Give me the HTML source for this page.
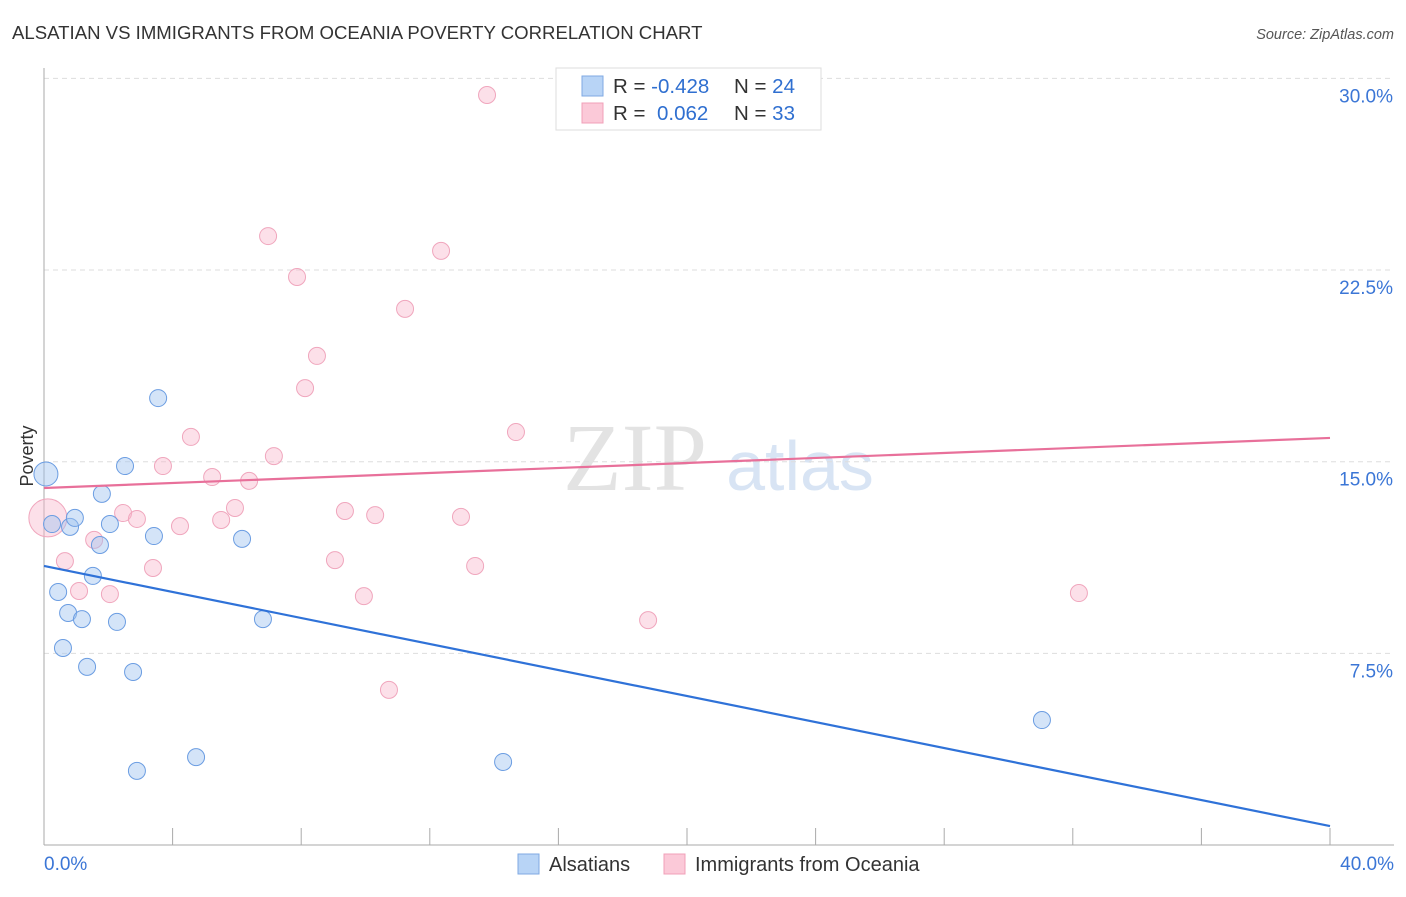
<!DOCTYPE html>
<html><head><meta charset="utf-8"><style>
body{margin:0;background:#fff;font-family:"Liberation Sans",sans-serif;}
</style></head><body>
<svg width="1406" height="892" xmlns="http://www.w3.org/2000/svg" font-family="Liberation Sans, sans-serif">
<text x="12" y="39" font-size="18.6" fill="#333">ALSATIAN VS IMMIGRANTS FROM OCEANIA POVERTY CORRELATION CHART</text>
<text x="1394" y="39" font-size="14.5" fill="#555" font-style="italic" text-anchor="end">Source: ZipAtlas.com</text>
<g>
<text x="635" y="490" font-size="96" fill="#d8d8d8" text-anchor="middle" font-family="Liberation Serif, serif" opacity="0.7">ZIP</text>
<text x="800" y="490" font-size="70" fill="#c8daf0" text-anchor="middle" opacity="0.7">atlas</text>
</g>
<g id="grid"></g>
<line x1="44" y1="68" x2="44" y2="845" stroke="#aaa"/>
<line x1="44" y1="845" x2="1394" y2="845" stroke="#aaa"/>
<g id="ticks"></g>
<text x="33" y="456" font-size="18" fill="#333" text-anchor="middle" transform="rotate(-90 33 456)">Poverty</text>
<g id="pts"></g>
<g id="lines"></g>
<g>
<rect x="556" y="68" width="265" height="62" fill="#fff" stroke="#ddd"/>
<rect x="582" y="76" width="21" height="20" fill="#b8d4f6" stroke="#7fa9e3"/>
<rect x="582" y="103" width="21" height="20" fill="#fbc9d8" stroke="#f0a0b8"/>
<text x="613" y="93" font-size="20.5" fill="#333">R = <tspan fill="#2f6fd0">-0.428</tspan></text>
<text x="734" y="93" font-size="20.5" fill="#333">N = <tspan fill="#2f6fd0">24</tspan></text>
<text x="613" y="120" font-size="20.5" fill="#333">R = <tspan fill="#2f6fd0" x="657">0.062</tspan></text>
<text x="734" y="120" font-size="20.5" fill="#333">N = <tspan fill="#2f6fd0">33</tspan></text>
</g>
<g>
<rect x="518" y="854" width="21" height="20" fill="#b8d4f6" stroke="#7fa9e3"/>
<text x="549" y="871" font-size="20" fill="#333">Alsatians</text>
<rect x="664" y="854" width="21" height="20" fill="#fbc9d8" stroke="#f0a0b8"/>
<text x="695" y="871" font-size="20" fill="#333">Immigrants from Oceania</text>
</g>
</svg>
<script>
const blueX=[0.06,0.25,0.81,0.96,1.74,1.52,0.44,0.75,1.18,2.27,0.59,1.34,2.77,1.80,2.05,2.52,3.42,3.55,6.16,6.81,2.89,4.73,14.28,31.04];
const blueY=[14.52,12.56,12.45,12.80,11.74,10.53,9.90,9.08,8.84,8.73,7.71,6.97,6.77,13.74,12.56,14.83,12.09,17.49,11.98,8.84,2.90,3.44,3.25,4.89];
const pinkX=[13.78,6.97,12.35,7.87,11.23,8.49,8.12,14.68,4.57,3.70,7.15,5.23,6.38,5.94,2.46,2.89,5.51,4.23,9.36,10.30,12.97,0.12,1.56,0.65,9.05,13.41,3.39,1.09,2.05,9.95,32.19,18.79,10.73];
const pinkY=[29.35,23.83,23.25,22.23,20.98,19.14,17.88,16.16,15.97,14.83,15.22,14.40,14.25,13.19,12.99,12.76,12.72,12.48,13.07,12.91,12.84,12.80,11.94,11.11,11.15,10.92,10.84,9.94,9.82,9.74,9.86,8.80,6.07];
const blueTrend=[10.92,0.74];
const pinkTrend=[13.97,15.93];
const yTicks=[7.5,15,22.5,30];
const yTickLabels=["7.5%","15.0%","22.5%","30.0%"];
const NS='http://www.w3.org/2000/svg';
const sx=v=>44+v/40*1286;
const sy=v=>845-v/30*766.6;
function mk(tag,attrs,parent){const e=document.createElementNS(NS,tag);for(const k in attrs)e.setAttribute(k,attrs[k]);document.getElementById(parent).appendChild(e);return e;}
yTicks.forEach((t,i)=>{
 const g=mk('line',{x1:44,x2:1394,y1:sy(t),y2:sy(t),stroke:'#ddd','stroke-dasharray':'5,4'},'grid');
 
 
 const l=mk('text',{x:1393,y:sy(t)+24,'font-size':19,fill:'#3b76d6','text-anchor':'end'},'ticks');
 l.textContent=yTickLabels[i];
 
 
});
for(let i=0;i<=10;i++){
 const t=mk('line',{x1:sx(i*4),x2:sx(i*4),y1:828,y2:845,stroke:'#aaa'},'ticks');
 
 
}
[[0,"0.0%",'start',44],[40,"40.0%",'end',1394]].forEach(a=>{
 const l=mk('text',{x:a[3],y:870,'font-size':19,fill:'#3b76d6','text-anchor':a[2]},'ticks');
 l.textContent=a[1];
 
 
});
pinkX.forEach((x,i)=>{
 const r=(i===21)?19:8.5;
 const c=mk('circle',{cx:sx(x),cy:sy(pinkY[i]),r:r,fill:'rgba(248,182,202,0.42)',stroke:'#f0a6bd','stroke-width':1},'pts');
 
 
});
blueX.forEach((x,i)=>{
 const r=(i===0)?12:8.5;
 const c=mk('circle',{cx:sx(x),cy:sy(blueY[i]),r:r,fill:'rgba(160,196,240,0.45)',stroke:'#6b9de2','stroke-width':1},'pts');
 
 
});
const bl=mk('line',{x1:sx(0),y1:sy(blueTrend[0]),x2:sx(40),y2:sy(blueTrend[1]),stroke:'#2f72d8','stroke-width':2.2},'lines');


const pl=mk('line',{x1:sx(0),y1:sy(pinkTrend[0]),x2:sx(40),y2:sy(pinkTrend[1]),stroke:'#e8709a','stroke-width':2.2},'lines');


</script>
</body></html>
